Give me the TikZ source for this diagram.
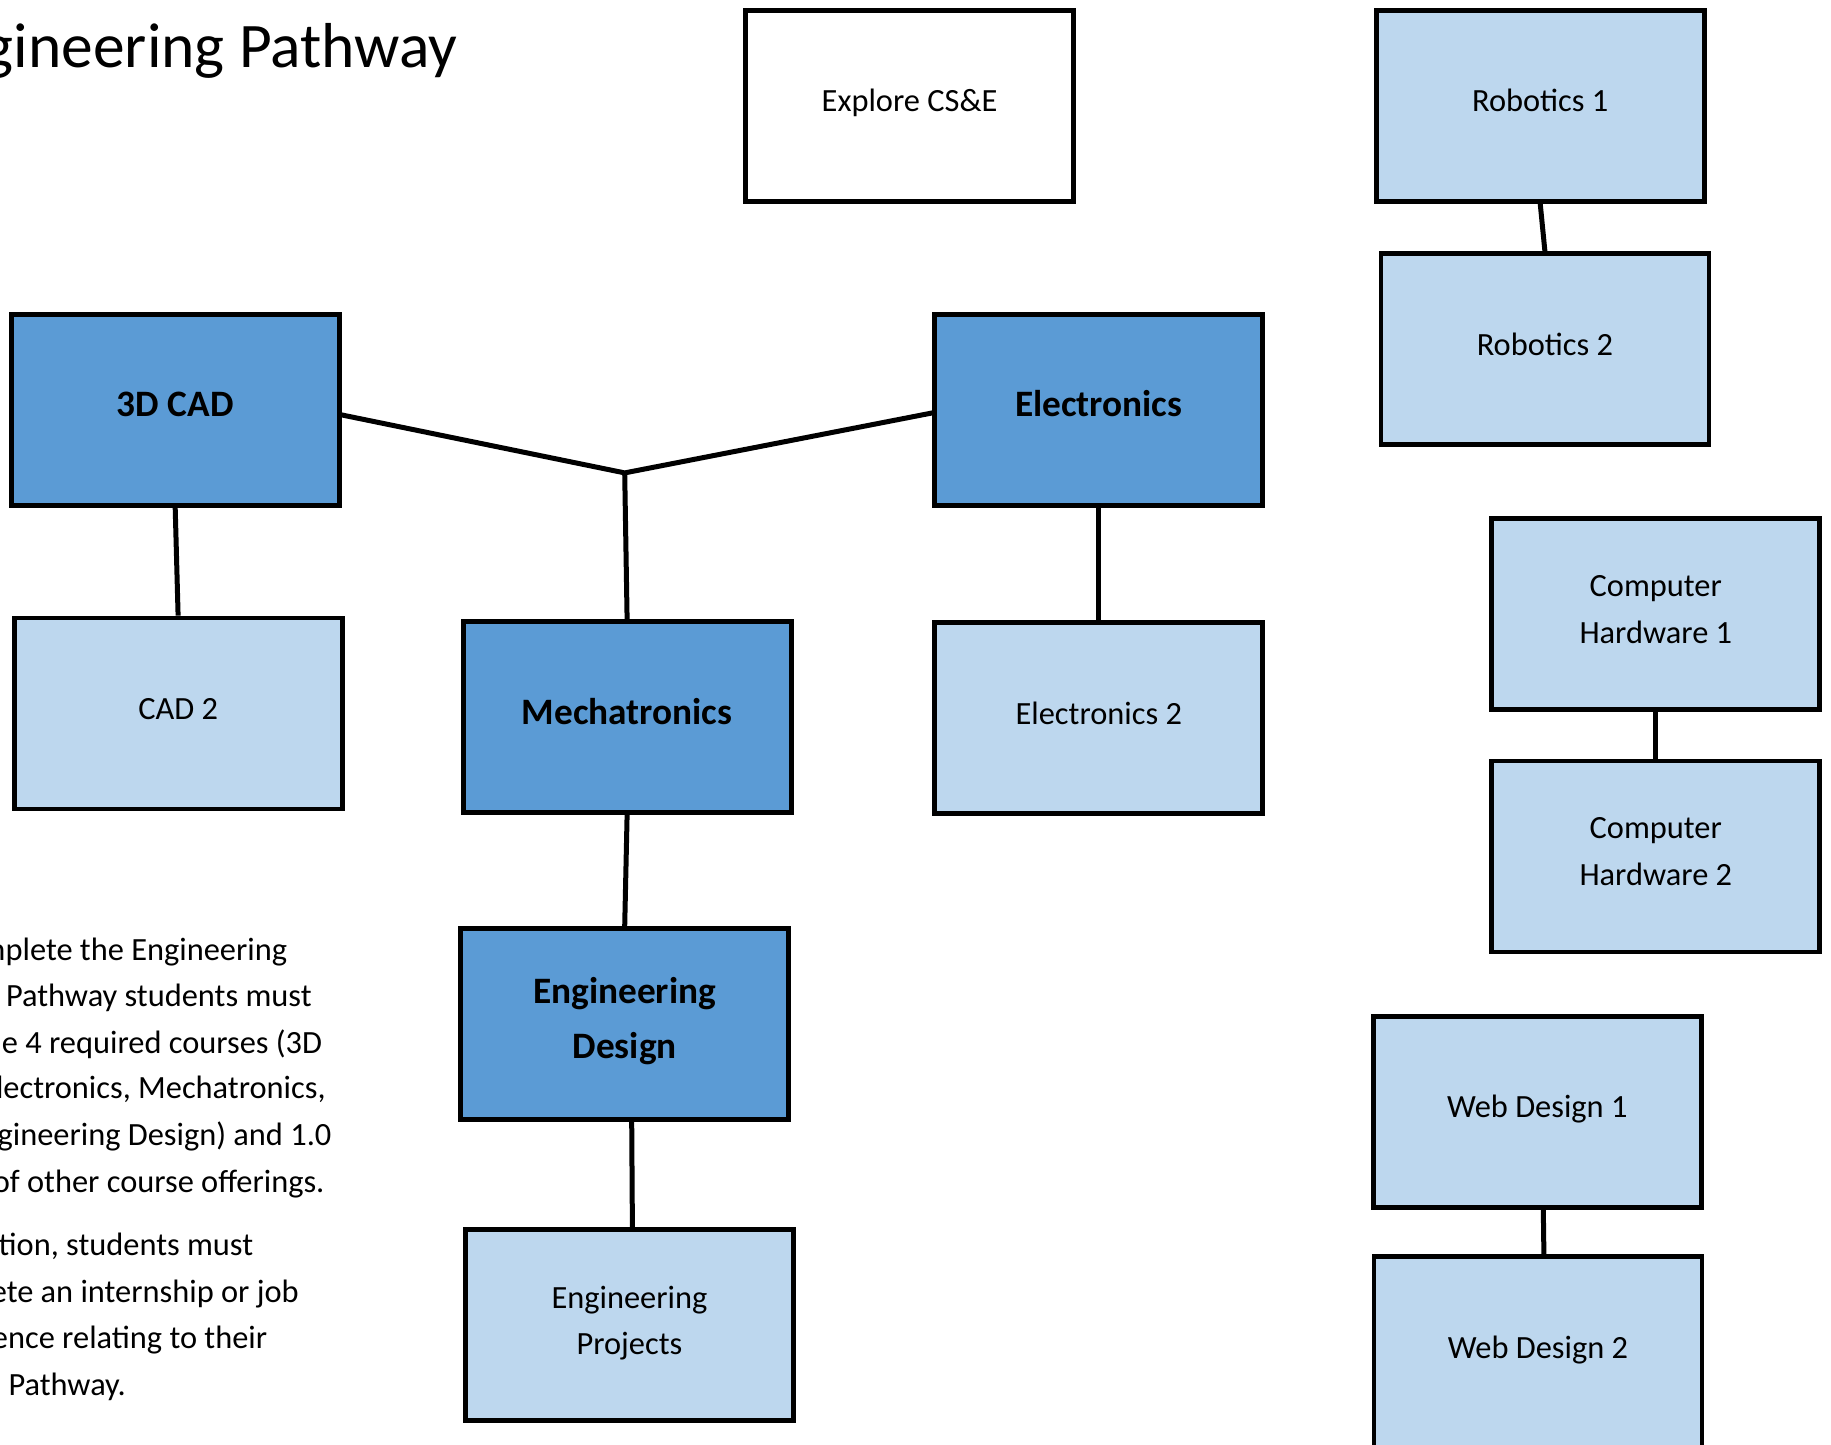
\documentclass[tikz,border=0pt]{standalone}
\usepackage{fontspec}
\setmainfont{Carlito}
\definecolor{corecourse}{HTML}{5B9BD5}
\definecolor{electcourse}{HTML}{BDD7EE}

\begin{document}
\begin{tikzpicture}[x = 1pt, y = -1pt]
		\tikzstyle{every node} = [font = \fontsize{32.4}{46.7}\selectfont]
		\tikzstyle{course} = [draw, line width = 4.8pt, minimum width = 328pt, minimum height = 191pt, align = center, inner sep = 0pt, text depth = 10pt]
		\tikzstyle{core} = [course, fill = corecourse, font = \fontsize{37.3}{55}\selectfont\bfseries, text depth = 12pt]
		\tikzstyle{elective} = [course, fill = electcourse]
		\tikzstyle{link} = [line width = 5pt]
		\tikzstyle{note} = [anchor = base east, inner sep = 0pt]
		\useasboundingbox (0,0) rectangle (1831,1445);

		% title, cut at the left edge
		\node [anchor = base east, inner sep = 0pt, font = \fontsize{63.5}{70}\selectfont] (title) at (457.5,67.7) {gineering Pathway};

		% required courses
		\node [core] (cad) at (175.2,409.9) {3D CAD};
		\node [core] (elec) at (1098.8,409.9) {Electronics};
		\node [core] (mech) at (627.1,717) {Mechatronics};
		\node [core] (engdes) at (624.7,1024.1) {Engineering\\Design};

		% other courses
		\node [course] (explore) at (909.6,105.7) {Explore CS\&E};
		\node [elective] (cadtwo) at (178.1,713.5) {CAD 2};
		\node [elective] (electwo) at (1098.8,718.1) {Electronics 2};
		\node [elective] (engproj) at (629.4,1325.3) {Engineering\\Projects};
		\node [elective] (robone) at (1540.2,105.7) {Robotics 1};
		\node [elective] (robtwo) at (1544.9,349.1) {Robotics 2};
		\node [elective] (hwone) at (1655.8,614.2) {Computer\\Hardware 1};
		\node [elective] (hwtwo) at (1655.8,856.5) {Computer\\Hardware 2};
		\node [elective] (webone) at (1537.3,1111.7) {Web Design 1};
		\node [elective] (webtwo) at (1537.9,1352) {Web Design 2};

		% connectors
		\coordinate (j) at (624.7,472.9);
		\draw [link] ([yshift=-5pt]cad.east) -- (j) -- ([yshift=-3pt]elec.west); %3D CAD to Electronics
		\draw [link] (j) -- (mech.north);
		\draw [link] (cad.south) -- (cadtwo.north);
		\draw [link] (elec.south) -- (electwo.north);
		\draw [link] (mech.south) -- (engdes.north);
		\draw [link] ([xshift=7pt]engdes.south) -- ([xshift=3pt]engproj.north);
		\draw [link] (robone.south) -- (robtwo.north);
		\draw [link] (hwone.south) -- (hwtwo.north);
		\draw [link] ([xshift=6pt]webone.south) -- ([xshift=6pt]webtwo.north);

		% notes, cut at the left edge
		\foreach \ypos/\xpos/\words [count = \i] in {960/287.3/{mplete the Engineering}, 1006.5/311.8/{Pathway students must}, 1053.3/322.3/{he 4 required courses (3D}, 1098.8/325.8/{lectronics, Mechatronics,}, 1145.5/331.6/{gineering Design) and 1.0}, 1192.2/324.6/{of other course offerings.}, 1255.3/253.4/{tion, students must}, 1302/298.9/{ete an internship or job}, 1348.7/267.4/{ence relating to their}, 1395.4/126.1/{Pathway.}}
		{
			\node [note] (note\i) at (\xpos,\ypos) {\words};
		}
	\end{tikzpicture}
\end{document}
